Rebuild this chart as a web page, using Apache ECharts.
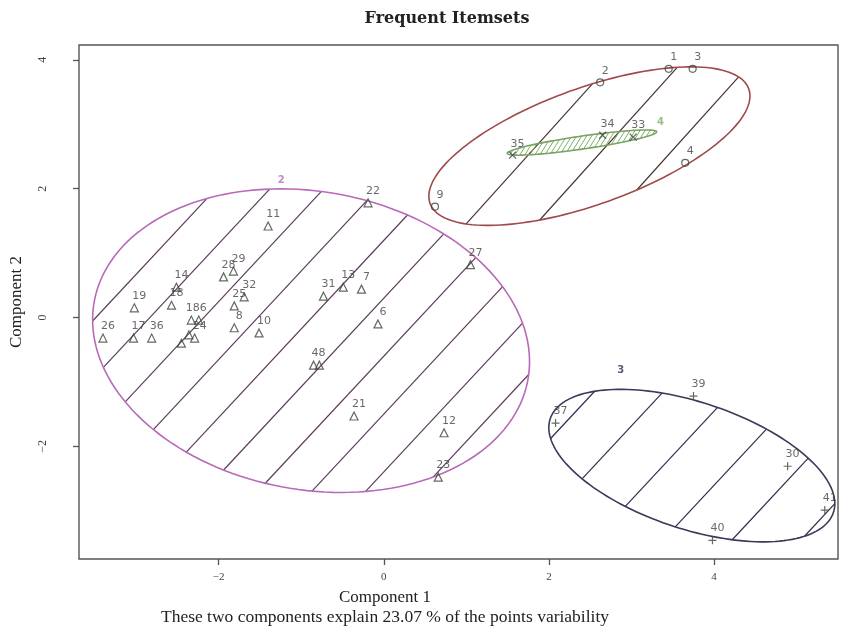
<!DOCTYPE html>
<html><head><meta charset="utf-8">
<script src="https://cdn.jsdelivr.net/npm/echarts@6/dist/echarts.min.js"></script>
<style>html,body{margin:0;padding:0;background:#fff}#c{width:841px;height:635px}</style>
</head><body><div id="c"></div>
<script>
// ---- axis ticks ----
const xTicks = [-2, 0, 2, 4];
const yTicks = [-2, 0, 2, 4];

// ---- cluster 2 points (triangles) ----
const c2Labels = ["26","17","36","19","14","18","186","","24","","","8","10","11","28","29","32","25","31","13","7","6","48","","21","12","23","22","27"];
const c2X = [-3.40,-3.03,-2.81,-3.02,-2.51,-2.57,-2.33,-2.24,-2.29,-2.36,-2.45,-1.81,-1.51,-1.40,-1.94,-1.82,-1.69,-1.81,-0.73,-0.49,-0.27,-0.07,-0.85,-0.78,-0.36,0.73,0.66,-0.19,1.05];
const c2Y = [-0.32,-0.32,-0.32,0.15,0.47,0.19,-0.04,-0.04,-0.32,-0.27,-0.40,-0.16,-0.24,1.42,0.63,0.72,0.32,0.18,0.33,0.47,0.44,-0.10,-0.74,-0.74,-1.53,-1.79,-2.48,1.78,0.82];

// ---- cluster 1 points (circles) ----
const c1Labels = ["1","3","2","4","9"];
const c1X = [3.45,3.74,2.62,3.65,0.62];
const c1Y = [3.86,3.86,3.65,2.40,1.72];

// ---- cluster 4 points (crosses) ----
const c4Labels = ["35","34","33"];
const c4X = [1.56,2.65,3.02];
const c4Y = [2.52,2.83,2.80];

// ---- cluster 3 points (plus) ----
const c3Labels = ["37","39","30","41","40"];
const c3X = [2.08,3.75,4.89,5.34,3.98];
const c3Y = [-1.64,-1.22,-2.31,-2.99,-3.46];

// ---- cluster ellipses (data space) ----
const ellIds = ["1","2","3","4"];
const ellCx = [2.49,-0.88,3.73,2.40];
const ellCy = [2.66,-0.36,-2.30,2.715];
const ellA = [2.13,2.72,1.87,0.92];
const ellB = [0.87,2.27,0.95,0.10];
const ellAngle = [26.6,-25,-26,10.6];

// ---- cluster id labels ----
const clusIds = ["2","3","4"];
const clusLabX = [-1.24,2.87,3.35];
const clusLabY = [2.13,-0.82,3.03];

// ---- styles ----
const ellBorder = ['#a04a4a','#b86ab8','#3a3a5a','#7aa266'];
const hatchColor = ['#4a3434','#5e3a5e','#2e2e50','#7cb266'];
const hatchAnglePx = [48,47,47,58];
const hatchSpacePx = [70,54,69,5];
const hatchMinLenPx = [80,0,0,0];
const hatchAnchor = [[0.99,1.44],[-2.14,1.85],[2.66,-1.0],[2.40,2.70]];
const clusLabColor = ['#b86ab8','#2e2e50','#7cb266'];

function ellipseRender(i) {
  return function (params, api) {
    const cx = ellCx[i], cy = ellCy[i], a = ellA[i], b = ellB[i];
    const th = ellAngle[i] * Math.PI / 180, ct = Math.cos(th), st = Math.sin(th);
    const pts = [];
    for (let k = 0; k <= 160; k++) {
      const t = k / 160 * 2 * Math.PI;
      const ux = a * Math.cos(t), vy = b * Math.sin(t);
      pts.push(api.coord([cx + ux * ct - vy * st, cy + ux * st + vy * ct]));
    }
    const sz = api.size([1, 1]);
    const sx = sz[0], sy = sz[1];
    const s = Math.tan(hatchAnglePx[i] * Math.PI / 180) * sx / sy;
    const dc = s * hatchSpacePx[i] / sx;
    const c0 = hatchAnchor[i][1] - s * hatchAnchor[i][0];
    const children = [];
    for (let k = -400; k <= 400; k++) {
      const c = c0 + k * dc;
      const u1 = ct + s * st, u0 = -cx * ct + (c - cy) * st;
      const v1 = -st + s * ct, v0 = cx * st + (c - cy) * ct;
      const A = u1 * u1 / (a * a) + v1 * v1 / (b * b);
      const B = 2 * (u1 * u0 / (a * a) + v1 * v0 / (b * b));
      const C = u0 * u0 / (a * a) + v0 * v0 / (b * b) - 1;
      const disc = B * B - 4 * A * C;
      if (disc <= 0) continue;
      const r = Math.sqrt(disc);
      const t1 = (-B - r) / (2 * A), t2 = (-B + r) / (2 * A);
      const p1 = api.coord([t1, s * t1 + c]);
      const p2 = api.coord([t2, s * t2 + c]);
      if (Math.hypot(p2[0] - p1[0], p2[1] - p1[1]) < hatchMinLenPx[i]) continue;
      children.push({ type: 'line', shape: { x1: p1[0], y1: p1[1], x2: p2[0], y2: p2[1] },
        style: { stroke: hatchColor[i], lineWidth: i === 3 ? 1 : 1.2 } });
    }
    children.push({ type: 'polygon', shape: { points: pts },
      style: { fill: 'none', stroke: ellBorder[i], lineWidth: 1.6 } });
    return { type: 'group', children: children };
  };
}

const labelFont = { fontFamily: 'DejaVu Sans', fontSize: 11, color: '#444' };
function pts(xs, ys, ls) { return xs.map((x, k) => ({ value: [x, ys[k]], label: { formatter: ls[k] } })); }
function ptLabel() { return Object.assign({ show: true, position: 'top', distance: 0, offset: [5, 0] }, labelFont); }

const series = [];
for (let i = 0; i < 4; i++) {
  series.push({ type: 'custom', renderItem: ellipseRender(i), data: [[ellCx[i], ellCy[i]]], z: 1, silent: true });
}
series.push({ type: 'scatter', symbol: 'triangle', symbolSize: 8, z: 5,
  itemStyle: { color: 'none', borderColor: '#3a463a', borderWidth: 1.2 },
  label: ptLabel(), data: pts(c2X, c2Y, c2Labels) });
series.push({ type: 'scatter', symbol: 'circle', symbolSize: 7, z: 5,
  itemStyle: { color: 'none', borderColor: '#3a463a', borderWidth: 1.2 },
  label: ptLabel(), data: pts(c1X, c1Y, c1Labels) });
series.push({ type: 'scatter', symbol: 'path://M0,0L10,10M10,0L0,10', symbolSize: 7, z: 5,
  itemStyle: { color: 'none', borderColor: '#3a463a', borderWidth: 1.3 },
  label: ptLabel(), data: pts(c4X, c4Y, c4Labels) });
series.push({ type: 'scatter', symbol: 'path://M0,5L10,5M5,0L5,10', symbolSize: 8, z: 5,
  itemStyle: { color: 'none', borderColor: '#3a463a', borderWidth: 1.2 },
  label: ptLabel(), data: pts(c3X, c3Y, c3Labels) });
series.push({ type: 'scatter', symbolSize: 0, z: 6,
  label: { show: true, position: 'inside', fontFamily: 'DejaVu Sans', fontSize: 10, fontWeight: 'bold' },
  data: clusIds.map((id, k) => ({ value: [clusLabX[k], clusLabY[k]], label: { formatter: id, color: clusLabColor[k] } })) });

const serif = 'Liberation Serif';
const fmt = v => (v < 0 ? '\u2212' + Math.abs(v) : String(v));
const chart = echarts.init(document.getElementById('c'), null, { renderer: 'canvas' });
chart.setOption({
  animation: false,
  backgroundColor: '#fff',
  grid: { left: 77, top: 45, right: 3, bottom: 76, show: true, borderColor: '#555', borderWidth: 1.4 },
  xAxis: { type: 'value', min: -3.69, max: 5.50,
    axisLine: { show: false, onZero: false },
    axisTick: { show: true, inside: false, length: 6, customValues: xTicks, lineStyle: { color: '#555', width: 1.3 } },
    axisLabel: { customValues: xTicks, margin: 13, fontFamily: serif, fontSize: 11, color: '#444', formatter: fmt },
    splitLine: { show: false } },
  yAxis: { type: 'value', min: -3.75, max: 4.23,
    axisLine: { show: false, onZero: false },
    axisTick: { show: true, inside: false, length: 6, customValues: yTicks, lineStyle: { color: '#555', width: 1.3 } },
    axisLabel: { customValues: yTicks, rotate: 90, margin: 30, fontFamily: serif, fontSize: 12, color: '#444', formatter: fmt },
    splitLine: { show: false },
    name: 'Component 2', nameLocation: 'middle', nameRotate: 90, nameGap: 54,
    nameTextStyle: { fontFamily: serif, fontSize: 17, color: '#222' } },
  graphic: [
    { type: 'text', x: 447, y: 19, style: { text: 'Frequent Itemsets', font: 'bold 16px "DejaVu Serif"', fill: '#222', align: 'center', verticalAlign: 'middle' } },
    { type: 'text', x: 385, y: 598, style: { text: 'Component 1', font: '17px "Liberation Serif"', fill: '#222', align: 'center', verticalAlign: 'middle' } },
    { type: 'text', x: 385, y: 617, style: { text: 'These two components explain 23.07 % of the points variability', font: '17.5px "Liberation Serif"', fill: '#222', align: 'center', verticalAlign: 'middle' } }
  ],
  series: series
});
</script>
</body></html>
